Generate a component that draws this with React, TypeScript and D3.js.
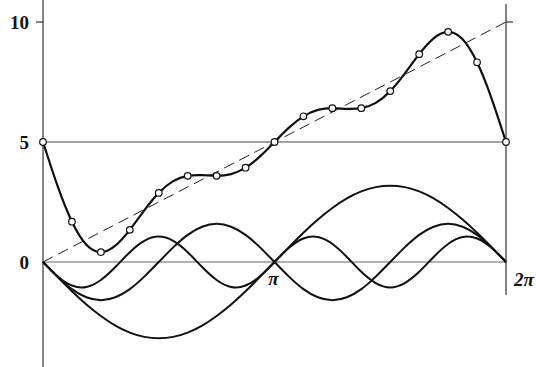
import React from "react";
import * as d3 from "d3";

// Sample positions: k·π/16 for k = 0..32 (0 … 2π)
const sampleCount = 33;

// Partial sum curve
const sumValues = [
  5, 3.18, 1.68, 0.72, 0.41, 0.68, 1.34, 2.15, 2.88, 3.37, 3.59, 3.62, 3.59, 3.66, 3.93, 4.4,
  5, 5.6, 6.07, 6.34, 6.41, 6.38, 6.41, 6.63, 7.12, 7.85, 8.66, 9.32, 9.59, 9.28, 8.32, 6.82, 5,
];

// First component (large arc)
const comp1 = [
  0, -0.62, -1.22, -1.77, -2.25, -2.65, -2.94, -3.12, -3.18, -3.12, -2.94, -2.65, -2.25, -1.77, -1.22, -0.62,
  0, 0.62, 1.22, 1.77, 2.25, 2.65, 2.94, 3.12, 3.18, 3.12, 2.94, 2.65, 2.25, 1.77, 1.22, 0.62, 0,
];

// Second component
const comp2 = [
  0, -0.61, -1.13, -1.47, -1.59, -1.47, -1.13, -0.61, 0, 0.61, 1.13, 1.47, 1.59, 1.47, 1.13, 0.61,
  0, -0.61, -1.13, -1.47, -1.59, -1.47, -1.13, -0.61, 0, 0.61, 1.13, 1.47, 1.59, 1.47, 1.13, 0.61, 0,
];

// Third component
const comp3 = [
  0, -0.59, -0.98, -1.04, -0.75, -0.21, 0.41, 0.88, 1.06, 0.88, 0.41, -0.21, -0.75, -1.04, -0.98, -0.59,
  0, 0.59, 0.98, 1.04, 0.75, 0.21, -0.41, -0.88, -1.06, -0.88, -0.41, 0.21, 0.75, 1.04, 0.98, 0.59, 0,
];

// Dashed trend line endpoints
const trendX = [0, 2 * Math.PI];
const trendY = [0, 10];

// Axis labels
const yLabels = [
  { v: 10, t: "10" },
  { v: 5, t: "5" },
  { v: 0, t: "0" },
];
const xLabels = [
  { v: Math.PI, t: "π" },
  { v: 2 * Math.PI, t: "2π" },
];

const W = 536;
const H = 367;

export default function App() {
  const x = d3.scaleLinear().domain([0, 2 * Math.PI]).range([43, 506]);
  const y = d3.scaleLinear().domain([0, 10]).range([262, 22]);
  const xAt = (i: number) => (i * Math.PI) / 16;

  const line = d3
    .line<number>()
    .x((_, i) => x(xAt(i)))
    .y((d) => y(d))
    .curve(d3.curveNatural);

  const trend = d3
    .line<number>()
    .x((_, i) => x(trendX[i]))
    .y((d) => y(d));

  const font = "'Liberation Serif', 'DejaVu Serif', serif";
  const x0 = x(0);
  const x1 = x(2 * Math.PI);

  return (
    <svg
      width={W}
      height={H}
      style={{ position: "absolute", left: 0, top: 0, background: "#fff" }}
    >
      {/* axes */}
      <line x1={x0} x2={x0} y1={0} y2={H} stroke="#333" strokeWidth={1.2} />
      <line x1={x1} x2={x1} y1={4} y2={295} stroke="#333" strokeWidth={1.2} />
      {/* horizontal reference lines */}
      <line x1={x0} x2={x1} y1={y(5)} y2={y(5)} stroke="#444" strokeWidth={1} />
      <line x1={x0} x2={x1} y1={y(0)} y2={y(0)} stroke="#666" strokeWidth={1} />
      {/* ticks at 10 */}
      <line x1={x0 - 7} x2={x0} y1={y(10)} y2={y(10)} stroke="#333" strokeWidth={1.2} />
      <line x1={x1} x2={x1 + 7} y1={y(10)} y2={y(10)} stroke="#333" strokeWidth={1.2} />

      {/* dashed trend */}
      <path
        d={trend(trendY) || ""}
        fill="none"
        stroke="#222"
        strokeWidth={1}
        strokeDasharray="11,6"
      />

      {/* components */}
      {[comp1, comp2, comp3].map((c, i) => (
        <path key={i} d={line(c) || ""} fill="none" stroke="#111" strokeWidth={2} />
      ))}

      {/* partial sum */}
      <path d={line(sumValues) || ""} fill="none" stroke="#111" strokeWidth={2.2} />
      {sumValues.map((v, i) =>
        i % 2 === 0 ? (
          <circle
            key={i}
            cx={x(xAt(i))}
            cy={y(v)}
            r={3.3}
            fill="#fff"
            stroke="#111"
            strokeWidth={1.2}
          />
        ) : null
      )}

      {/* labels */}
      {yLabels.map((l) => (
        <text
          key={l.t}
          x={29}
          y={y(l.v)}
          dy="0.35em"
          textAnchor="end"
          fontFamily={font}
          fontWeight="bold"
          fontSize={19}
          fill="#111"
        >
          {l.t}
        </text>
      ))}
      {xLabels.map((l, i) => (
        <text
          key={l.t}
          x={i === 0 ? x(l.v) - 1 : x(l.v) + 8}
          y={i === 0 ? 285 : 286}
          textAnchor={i === 0 ? "middle" : "start"}
          fontFamily={font}
          fontWeight="bold"
          fontStyle="italic"
          fontSize={19}
          fill="#111"
        >
          {l.t}
        </text>
      ))}
    </svg>
  );
}
